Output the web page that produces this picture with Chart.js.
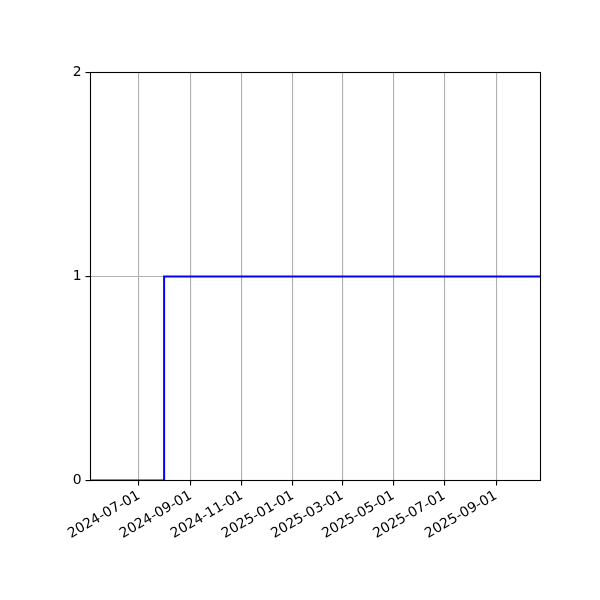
<!DOCTYPE html>
<html>
<head>
<meta charset="utf-8">
<script src="https://cdn.jsdelivr.net/npm/chart.js@4"></script>
<style>
  html, body { margin: 0; padding: 0; background: #fff; }
  #wrap { width: 600px; height: 600px; }
</style>
</head>
<body>
<div id="wrap"><canvas id="chart" width="600" height="600"></canvas></div>
<script>
// step series: value holds from each date until the next one
const stepDates = ["2024-05-04", "2024-07-31", "2025-10-24"];
const stepValues = [0, 1, 1];

const xStart = "2024-05-04";
const xEnd = "2025-10-24";

const xTickLabels = [
  "2024-07-01", "2024-09-01", "2024-11-01", "2025-01-01",
  "2025-03-01", "2025-05-01", "2025-07-01", "2025-09-01",
];
const yTicks = [0, 1, 2];

const DAY = 86400000;
function toDay(s) {
  return Date.parse(s + "T00:00:00Z") / DAY;
}
function fromDay(d) {
  return new Date(d * DAY).toISOString().slice(0, 10);
}

const font = { family: "DejaVu Sans", size: 13.9 };

const spineBox = {
  id: "spineBox",
  afterDatasetsDraw(chart) {
    const { ctx, chartArea: a } = chart;
    ctx.save();
    ctx.strokeStyle = "#000";
    ctx.lineWidth = 1.1;
    ctx.strokeRect(a.left, a.top, a.right - a.left, a.bottom - a.top);
    ctx.restore();
  },
};

new Chart(document.getElementById("chart"), {
  type: "line",
  data: {
    datasets: [
      {
        data: stepDates.map((d, i) => ({ x: toDay(d), y: stepValues[i] })),
        borderColor: "#0000ff",
        borderWidth: 2,
        // chart.js "before" = hold previous value, then jump at the new point
        stepped: "before",
        pointRadius: 0,
        fill: false,
        clip: 0,
      },
    ],
  },
  options: {
    responsive: false,
    devicePixelRatio: 1,
    animation: false,
    layout: { padding: { top: 72.5, right: 59.5, left: 0.5, bottom: 0 } },
    plugins: { legend: { display: false }, tooltip: { enabled: false } },
    scales: {
      x: {
        type: "linear",
        min: toDay(xStart),
        max: toDay(xEnd),
        afterBuildTicks: (scale) => {
          scale.ticks = xTickLabels.map((l) => ({ value: toDay(l) }));
        },
        afterFit: (scale) => {
          scale.height = 119.5;
        },
        ticks: {
          autoSkip: false,
          minRotation: 30,
          maxRotation: 30,
          color: "#000",
          font,
          padding: 2,
          callback: (v) => fromDay(v),
        },
        grid: {
          color: "#b0b0b0",
          lineWidth: 1.1,
          tickColor: "#000",
          tickLength: 5,
          tickWidth: 1.1,
        },
        border: { display: false },
      },
      y: {
        type: "linear",
        min: 0,
        max: 2,
        afterBuildTicks: (scale) => {
          scale.ticks = yTicks.map((v) => ({ value: v }));
        },
        afterFit: (scale) => {
          scale.width = 90;
        },
        ticks: { color: "#000", font, padding: 4 },
        grid: {
          color: "#b0b0b0",
          lineWidth: 1.1,
          tickColor: "#000",
          tickLength: 5,
          tickWidth: 1.1,
        },
        border: { display: false },
      },
    },
  },
  plugins: [spineBox],
});
</script>
</body>
</html>
